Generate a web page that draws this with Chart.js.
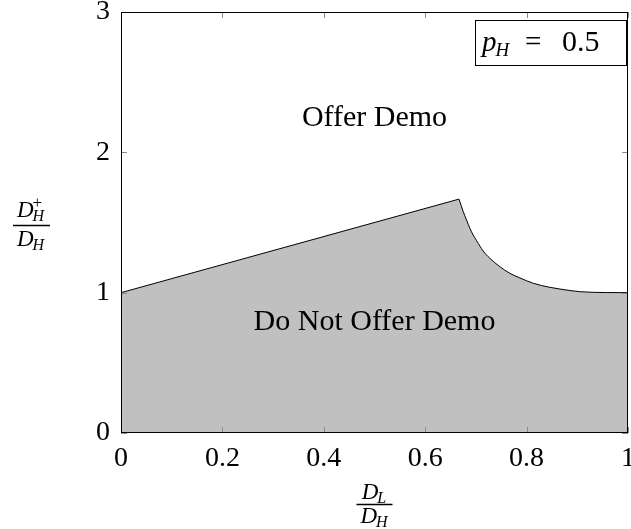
<!DOCTYPE html>
<html>
<head>
<meta charset="utf-8">
<script src="https://cdn.jsdelivr.net/npm/chart.js@4.4.1/dist/chart.umd.min.js"></script>
<style>
html,body{margin:0;padding:0;background:#fff;}
#wrap{width:631px;height:529px;}
</style>
</head>
<body>
<div id="wrap"><canvas id="c" width="631" height="529"></canvas></div>
<script>
// Boundary: straight part and curved part
const lineX = [0, 0.6667];
const lineY = [1, 1.6667];
const curveX = [0.6667, 0.6748, 0.6815, 0.6881, 0.6946, 0.7013, 0.7143, 0.7275, 0.7473, 0.7670, 0.7868, 0.8130, 0.8460, 0.8657, 0.9050, 0.9580, 1.0];
const curveY = [1.6667, 1.580, 1.518, 1.459, 1.411, 1.371, 1.297, 1.245, 1.185, 1.138, 1.105, 1.067, 1.038, 1.026, 1.007, 1.001, 1.0];
const xTicks = [0, 0.2, 0.4, 0.6, 0.8, 1];
const xTickLabels = ['0', '0.2', '0.4', '0.6', '0.8', '1'];
const yTicks = [0, 1, 2, 3];
const yTickLabels = ['0', '1', '2', '3'];
const regionLabels = ['Offer Demo', 'Do Not Offer Demo'];
const legendText = ['p', 'H', '=', '0.5'];

const SERIF = "'Liberation Serif', 'DejaVu Serif', serif";
const FILL = '#c0c0c0';

const toPts = (xs, ys) => xs.map((x, i) => ({x: x, y: ys[i]}));

const decor = {
  id: 'decor',
  afterDatasetsDraw(chart) {
    const ctx = chart.ctx;
    const a = chart.chartArea;
    const xs = chart.scales.x, ys = chart.scales.y;
    ctx.save();
    // inner ticks
    ctx.strokeStyle = '#8a8a8a';
    ctx.lineWidth = 1;
    const tl = 6;
    xTicks.forEach(v => {
      const px = Math.round(xs.getPixelForValue(v)) + 0.5;
      ctx.beginPath();
      ctx.moveTo(px, a.bottom); ctx.lineTo(px, a.bottom - tl);
      ctx.moveTo(px, a.top); ctx.lineTo(px, a.top + tl);
      ctx.stroke();
    });
    yTicks.forEach(v => {
      const py = Math.round(ys.getPixelForValue(v)) + 0.5;
      ctx.beginPath();
      ctx.moveTo(a.left, py); ctx.lineTo(a.left + tl, py);
      ctx.moveTo(a.right, py); ctx.lineTo(a.right - tl, py);
      ctx.stroke();
    });
    // frame
    ctx.strokeStyle = '#000';
    ctx.lineWidth = 1;
    ctx.strokeRect(a.left + 0.5, a.top + 0.5, a.right - a.left - 1, a.bottom - a.top - 1);

    // region labels
    ctx.fillStyle = '#000';
    ctx.textAlign = 'center';
    ctx.textBaseline = 'middle';
    ctx.font = '30px ' + SERIF;
    ctx.fillText(regionLabels[0], xs.getPixelForValue(0.5), ys.getPixelForValue(2.245));
    ctx.fillText(regionLabels[1], xs.getPixelForValue(0.5), ys.getPixelForValue(0.79));

    // legend box
    const bx = a.right - 153, by = a.top + 8, bw = 151, bh = 45;
    ctx.fillStyle = '#fff';
    ctx.fillRect(bx, by, bw, bh);
    ctx.strokeStyle = '#000';
    ctx.strokeRect(bx + 0.5, by + 0.5, bw, bh);
    ctx.fillStyle = '#000';
    ctx.textAlign = 'left';
    ctx.textBaseline = 'alphabetic';
    const base = by + 31;
    ctx.font = 'italic 29px ' + SERIF;
    ctx.fillText(legendText[0], bx + 7, base);
    const wp = ctx.measureText(legendText[0]).width;
    ctx.font = 'italic 19px ' + SERIF;
    ctx.fillText(legendText[1], bx + 7 + wp - 1, base + 5);
    ctx.font = '29px ' + SERIF;
    ctx.fillText(legendText[2], bx + 50, base);
    ctx.font = '30px ' + SERIF;
    ctx.fillText(legendText[3], bx + 87, base);

    ctx.restore();
  },
  afterDraw(chart) {
    const ctx = chart.ctx;
    const a = chart.chartArea;
    ctx.save();
    ctx.fillStyle = '#000';
    ctx.strokeStyle = '#000';
    ctx.textBaseline = 'alphabetic';
    function dsym(cx, base, sub, sup) {
      ctx.font = 'italic 23px ' + SERIF;
      const wD = ctx.measureText('D').width;
      ctx.font = 'italic 16px ' + SERIF;
      const wS = ctx.measureText(sub).width;
      const w = wD + wS;
      let x = cx - w / 2;
      ctx.textAlign = 'left';
      ctx.font = 'italic 23px ' + SERIF;
      ctx.fillText('D', x, base);
      ctx.font = 'italic 16px ' + SERIF;
      ctx.fillText(sub, x + wD - 1, base + 4);
      if (sup) {
        ctx.font = '17px ' + SERIF;
        ctx.fillText(sup, x + wD - 1, base - 9);
      }
    }
    // y title
    const ycx = 31, ybar = 225.5;
    dsym(ycx, 217, 'H', '+');
    ctx.lineWidth = 1.4;
    ctx.beginPath(); ctx.moveTo(13, ybar); ctx.lineTo(50, ybar); ctx.stroke();
    dsym(ycx, 246, 'H', null);
    // x title
    const xcx = (a.left + a.right) / 2, xbar = 504.5;
    dsym(xcx, 499, 'L', null);
    ctx.beginPath(); ctx.moveTo(xcx - 18, xbar); ctx.lineTo(xcx + 18, xbar); ctx.stroke();
    dsym(xcx, 523, 'H', null);
    ctx.restore();
  }
};

new Chart(document.getElementById('c'), {
  type: 'line',
  data: {
    datasets: [
      {
        data: toPts(lineX, lineY),
        borderColor: '#000', borderWidth: 1, backgroundColor: FILL,
        fill: 'origin', pointRadius: 0, tension: 0
      },
      {
        data: toPts(curveX, curveY),
        borderColor: '#000', borderWidth: 1, backgroundColor: FILL,
        fill: 'origin', pointRadius: 0, cubicInterpolationMode: 'monotone'
      }
    ]
  },
  options: {
    responsive: false,
    animation: false,
    devicePixelRatio: 1,
    layout: {padding: {top: 12, right: 3, left: 0, bottom: 0}},
    plugins: {legend: {display: false}, tooltip: {enabled: false}},
    scales: {
      x: {
        type: 'linear', min: 0, max: 1,
        grid: {display: false, drawTicks: false},
        border: {display: false},
        afterBuildTicks: s => { s.ticks = xTicks.map(v => ({value: v})); },
        ticks: {
          autoSkip: false, maxRotation: 0, padding: 9, color: '#000',
          font: {family: SERIF, size: 28},
          callback: (v, i) => xTickLabels[i]
        },
        afterFit: s => { s.height = 96; s.paddingLeft = 0; s.paddingRight = 0; }
      },
      y: {
        type: 'linear', min: 0, max: 3,
        grid: {display: false, drawTicks: false},
        border: {display: false},
        afterBuildTicks: s => { s.ticks = yTicks.map(v => ({value: v})); },
        ticks: {
          autoSkip: false, padding: 11, color: '#000',
          font: {family: SERIF, size: 28},
          callback: (v, i) => yTickLabels[i]
        },
        afterFit: s => { s.width = 121; s.paddingTop = 0; s.paddingBottom = 0; }
      }
    }
  },
  plugins: [decor]
});
</script>
</body>
</html>
